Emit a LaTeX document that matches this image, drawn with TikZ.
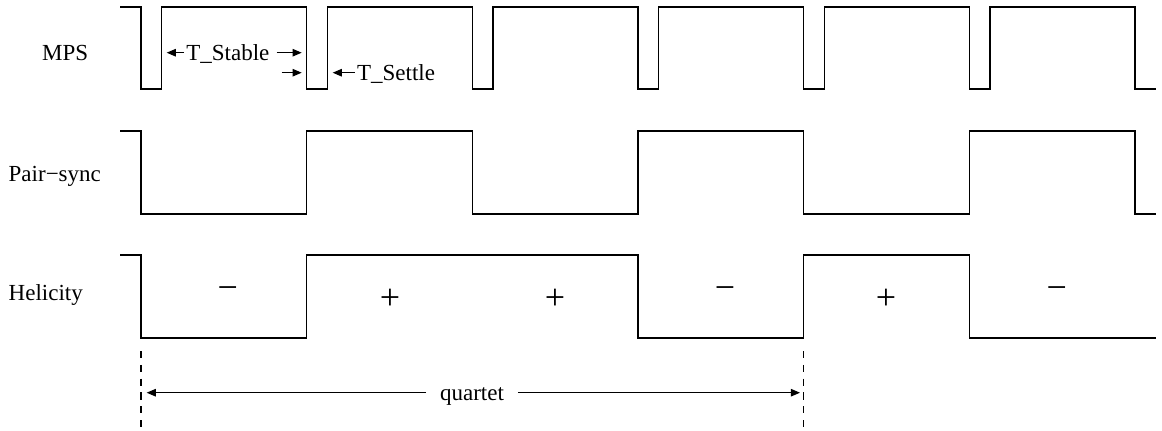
\documentclass[tikz,border=0pt]{standalone}
\usepackage{fontspec}
\setmainfont{Liberation Serif}
\usetikzlibrary{arrows.meta}

\tikzset{
  wave/.style={line width=0.6pt, line join=miter},
  arr/.style={line width=0.5pt, -{Triangle[length=4.6pt,width=3.8pt]}},
  qdash/.style={line width=0.65pt, dash pattern=on 3.6pt off 3.3pt},
  lbl/.style={inner sep=0pt, anchor=base west, font=\fontsize{11.5}{13}\selectfont},
  sign/.style={inner sep=0pt, font=\fontsize{18}{20}\selectfont},
}

\begin{document}
\begin{tikzpicture}[x=0.5pt,y=-0.5pt]
  \useasboundingbox (0,0) rectangle (1162,430);

  % signal names
  \node[lbl] (mps) at (41.7,60.7) {MPS};
  \node[lbl] (pair) at (8.3,181) {Pair−sync};
  \node[lbl] (hel) at (8.3,300.7) {Helicity};

  % MPS, with a short settle dip at each window edge
  \draw[wave] (120,7) foreach \k in {0,...,5} {
      -- ({141+165.67*\k},7) -- ++(0,82) -- ++(20.7,0) -- ++(0,-82) }
    -- (1135,7) -- (1135,89) -- (1156,89);

  % pair-sync
  \draw[wave] (120,131) -- (141,131) -- (141,214) -- (306.7,214) -- (306.7,131)
    -- (472.3,131) -- (472.3,214) -- (638,214) -- (638,131) -- (803.7,131)
    -- (803.7,214) -- (969.3,214) -- (969.3,131) -- (1135,131) -- (1135,214)
    -- (1156,214);

  % helicity
  \draw[wave] (120,255) -- (141,255) -- (141,338) -- (306.7,338) -- (306.7,255)
    -- (638,255) -- (638,338) -- (803.7,338) -- (803.7,255) -- (969.3,255)
    -- (969.3,338) -- (1156,338);

  \node[sign] (h1) at (227.7,293) {−};
  \node[sign] (h2) at (390,299) {+};
  \node[sign] (h3) at (555,299) {+};
  \node[sign] (h4) at (725,293) {−};
  \node[sign] (h5) at (886,299) {+};
  \node[sign] (h6) at (1056.7,293) {−};

  % timing marks
  \coordinate (stL) at (166.7,52.7);
  \coordinate (stRt) at (276.7,52.7);
  \coordinate (stR) at (301.7,52.7);
  \coordinate (seLt) at (281.7,72.7);
  \coordinate (seL) at (301.7,72.7);
  \coordinate (seR) at (332.7,72.7);

  \node[lbl] (stable) at (186,60) {T\_Stable};
  \node[lbl] (settle) at (356.7,80) {T\_Settle};

  \draw[arr, shorten <=1pt] (stable.west |- stL) -- (stL);
  \draw[arr] (stRt) -- (stR);
  \draw[arr] (seLt) -- (seL);
  \draw[arr, shorten <=1pt] (settle.west |- seR) -- (seR);

  % quartet span
  \coordinate (qa) at (141,351);
  \coordinate (qb) at (141,430);
  \coordinate (qc) at (803.7,351);
  \coordinate (qd) at (803.7,430);
  \draw[qdash] (qa) -- (qb);
  \draw[qdash] (qc) -- (qd);

  \coordinate (qL) at (146.7,392.7);
  \coordinate (qR) at (800,392.7);
  \node[lbl, anchor=base, inner xsep=6.8pt] (quartet) at (472,400.7) {quartet};
  \draw[arr] (quartet.west |- qL) -- (qL);
  \draw[arr] (quartet.east |- qR) -- (qR);
\end{tikzpicture}
\end{document}
